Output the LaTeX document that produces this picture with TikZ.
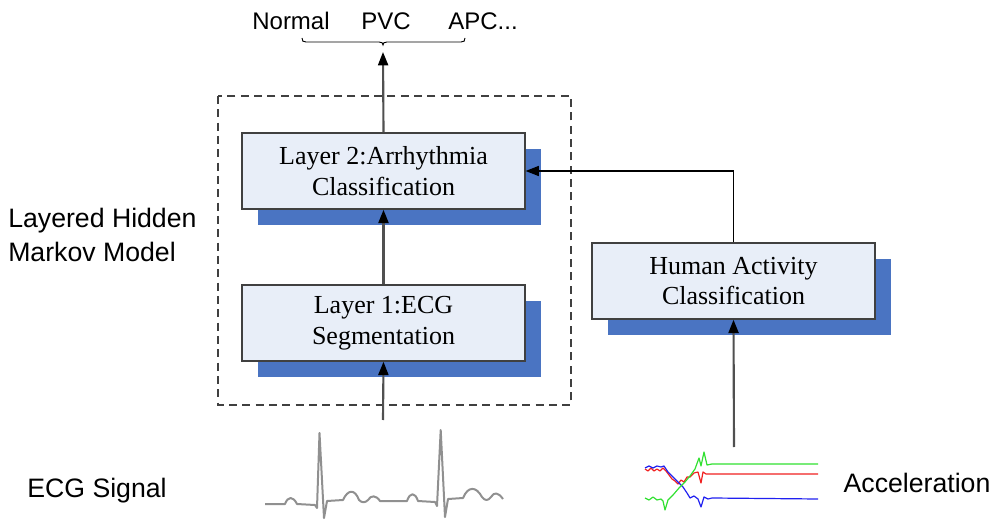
\documentclass[tikz,border=0pt]{standalone}
\usepackage{fontspec}
\setmainfont{Liberation Serif}
\newfontfamily\arialfont{Liberation Sans}
\usetikzlibrary{arrows.meta,shadows}
\definecolor{boxfill}{HTML}{E8EEF8}
\definecolor{boxline}{HTML}{404040}
\definecolor{shadowblue}{HTML}{4A74C2}
\definecolor{ecggray}{HTML}{909090}
\definecolor{arrgray}{HTML}{505050}
\definecolor{accred}{HTML}{F02020}
\definecolor{accblue}{HTML}{2020F0}
\definecolor{accgreen}{HTML}{30E030}
\begin{document}
\begin{tikzpicture}[x=0.75pt,y=-0.75pt,
  procbox/.style={draw=boxline, line width=1.1pt, fill=boxfill,
    minimum width=212pt, minimum height=57pt, inner sep=0pt, align=center,
    font=\fontsize{19.5}{23}\selectfont,
    general shadow={fill=shadowblue, shadow xshift=12pt, shadow yshift=-12pt}},
  arr/.style={draw=arrgray, line width=1.6pt, -{Triangle[length=10pt,width=7.5pt,fill=black,color=black]}},
  sidelabel/.style={font=\arialfont\fontsize{20}{25.5}\selectfont, align=left, inner sep=0pt},
  toplabel/.style={font=\arialfont\fontsize{18}{22}\selectfont, inner sep=0pt}
]
\useasboundingbox (0,0) rectangle (1000,531);

% dashed frame
\draw[boxline, line width=0.9pt, dash pattern=on 6pt off 4pt] (218,96) rectangle (571,405);

% boxes
\node[procbox] (layer2) at (383.5,171) {Layer 2:Arrhythmia\\Classification};
\node[procbox] (layer1) at (383.5,323) {Layer 1:ECG\\Segmentation};
\node[procbox] (human) at (733.5,281) {Human Activity\\Classification};

% top labels and brace
\node[toplabel] (normal) at (291,21) {Normal};
\node[toplabel] (pvc) at (386,21) {PVC};
\node[toplabel] (apc) at (483,21) {APC...};
\coordinate (bracetip) at (383,52);
\draw[black, line width=0.7pt] (302,38) .. controls (302,41) and (303,42) .. (306,42) -- (379,42)
  .. controls (382,42) and (383,43) .. (383,45) .. controls (383,43) and (384,42) .. (387,42)
  -- (461,42) .. controls (464,42) and (465,41) .. (465,38);

% side labels
\node[sidelabel, anchor=west] (lhmm) at (8,235) {Layered Hidden\\Markov Model};
\node[sidelabel] (ecglabel) at (97,491) {ECG Signal};
\node[sidelabel] (acclabel) at (917,483) {Acceleration};

% ECG waveform
\draw[ecggray, line width=1.5pt, line join=round]
  (265,504) -- (285,504) .. controls (288,496) and (293,496) .. (297,504) -- (315,505)
  -- (317,508) -- (319.5,433) -- (324,518) -- (327,501) -- (343,500)
  .. controls (348,489) and (355,489) .. (359,500)
  .. controls (362,503) and (365,503) .. (368,500)
  .. controls (371,495) and (376,495) .. (380,501) -- (407,501)
  .. controls (410,492) and (415,492) .. (418,501) -- (435,502)
  -- (437,506) -- (440.7,430) -- (445,517) -- (448,499) -- (463,498)
  .. controls (468,486) and (476,486) .. (482,497)
  .. controls (485,501) and (488,501) .. (491,497)
  .. controls (494,492) and (498,492) .. (503,499);
\coordinate (ecgtop) at (383,420);

% acceleration signals
\draw[accred, line width=0.9pt, line join=round]
  (645,469) -- (648,471) -- (651,468) -- (654,471) -- (657,469) -- (660,471) -- (663,468) -- (666,471)
  -- (669,475) -- (672,479) -- (675,481) -- (678,484) -- (681,480) -- (684,482) -- (687,477) -- (690,477)
  -- (694,473) -- (698,472) -- (701,483) -- (703,472) -- (706,474) -- (710,474) -- (818,474);
\draw[accblue, line width=0.9pt, line join=round]
  (645,468) -- (649,466) -- (653,468) -- (657,466) -- (661,467) -- (664,466) -- (668,472)
  -- (673,477) -- (678,482) -- (683,487) -- (687,493) -- (690,498) -- (694,496) -- (698,499)
  -- (701,507) -- (704,497) -- (708,499) -- (712,498) -- (818,499);
\draw[accgreen, line width=0.9pt, line join=round]
  (645,498) -- (649,500) -- (653,497) -- (657,500) -- (661,499) -- (663,501) -- (665,510)
  -- (668,500) -- (673,495) -- (679,488) -- (685,482) -- (690,476) -- (695,469) -- (699,458)
  -- (701,466) -- (704,452) -- (707,465) -- (712,464) -- (818,464);
\coordinate (acctop) at (734,447);

% connectors
\draw[arr] (ecgtop) -- (layer1.south);
\draw[arr] (layer1.north) -- (layer2.south);
\draw[arr] (layer2.north) -- (bracetip);
\draw[arr] (acctop) -- (human.south);
\draw[arr, draw=black, line width=1.1pt] (human.north) |- (layer2.east);
\end{tikzpicture}
\end{document}
